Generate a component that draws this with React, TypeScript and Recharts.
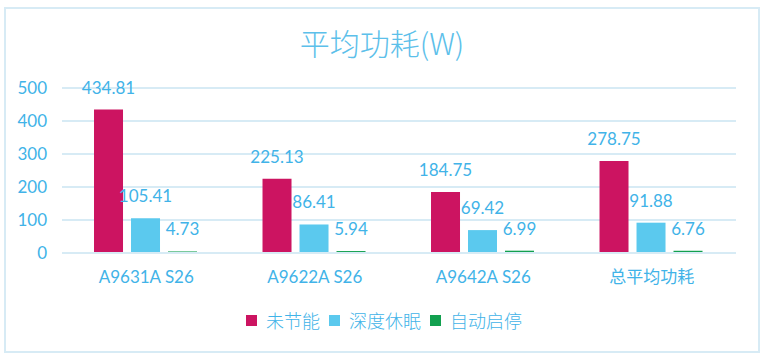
import { Bar, BarChart, CartesianGrid, LabelList, Legend, XAxis, YAxis } from 'recharts';

const categories = ['A9631A S26', 'A9622A S26', 'A9642A S26', '总平均功耗'];
const noSaving = [434.81, 225.13, 184.75, 278.75];
const deepSleep = [105.41, 86.41, 69.42, 91.88];
const autoStartStop = [4.73, 5.94, 6.99, 6.76];
const yTicks = [0, 100, 200, 300, 400, 500];

const SERIES = [
  { key: 'noSaving', name: '未节能', color: '#cc1461' },
  { key: 'deepSleep', name: '深度休眠', color: '#5bc9ee' },
  { key: 'autoStartStop', name: '自动启停', color: '#12a04f' },
];

const TEXT = '#41b3e8';
const GRID = '#d7ebf5';
const FONT = "Lato, 'Noto Sans CJK SC', sans-serif";

const data = categories.map((name, i) => ({
  name,
  noSaving: noSaving[i],
  deepSleep: deepSleep[i],
  autoStartStop: autoStartStop[i],
}));

function LegendContent() {
  return (
    <div style={{ display: 'flex', justifyContent: 'center', alignItems: 'center', gap: 9, paddingLeft: 4 }}>
      {SERIES.map((s) => (
        <span key={s.key} style={{ display: 'flex', alignItems: 'center', gap: 9 }}>
          <span style={{ width: 11, height: 11, background: s.color, display: 'inline-block' }} />
          <span style={{ color: TEXT, fontSize: 18, fontFamily: FONT, fontWeight: 300 }}>{s.name}</span>
        </span>
      ))}
    </div>
  );
}

export default function App() {
  return (
    <div
      style={{
        position: 'absolute',
        left: 0,
        top: 0,
        width: 764,
        height: 356,
        background: '#fff',
        fontFamily: FONT,
      }}
    >
      <div
        style={{
          position: 'absolute',
          left: 4,
          top: 7,
          width: 752,
          height: 342,
          border: `2px solid ${GRID}`,
        }}
      />
      <div
        style={{
          position: 'absolute',
          left: 0,
          width: 764,
          top: 20,
          textAlign: 'center',
          color: '#5cc0ea',
          fontSize: 30,
          fontFamily: "'Noto Sans CJK SC', Lato, sans-serif",
          fontWeight: 300,
        }}
      >
        平均功耗(W)
      </div>
      <div style={{ position: 'absolute', left: 0, top: 0 }}>
        <BarChart
          width={764}
          height={356}
          data={data}
          margin={{ top: 88, right: 28, bottom: 73, left: 0 }}
          barCategoryGap="19%"
          barGap={8}
        >
          <CartesianGrid vertical={false} stroke={GRID} strokeWidth={2} />
          <XAxis
            dataKey="name"
            axisLine={{ stroke: GRID, strokeWidth: 2 }}
            tickLine={false}
            tickMargin={12}
            tick={{ fill: TEXT, fontSize: 17, fontFamily: FONT }}
          />
          <YAxis
            width={62}
            domain={[0, 500]}
            ticks={yTicks}
            axisLine={false}
            tickLine={false}
            tickMargin={9}
            tick={{ fill: TEXT, fontSize: 17, fontFamily: FONT }}
          />
          <Legend
            verticalAlign="middle"
            align="center"
            content={<LegendContent />}
            wrapperStyle={{ top: 307, left: 0, width: 764 }}
          />
          {SERIES.map((s) => (
            <Bar key={s.key} dataKey={s.key} name={s.name} fill={s.color} isAnimationActive={false}>
              <LabelList
                dataKey={s.key}
                position="top"
                offset={16}
                fill={TEXT}
                fontSize={17}
                fontFamily={FONT}
              />
            </Bar>
          ))}
        </BarChart>
      </div>
    </div>
  );
}
